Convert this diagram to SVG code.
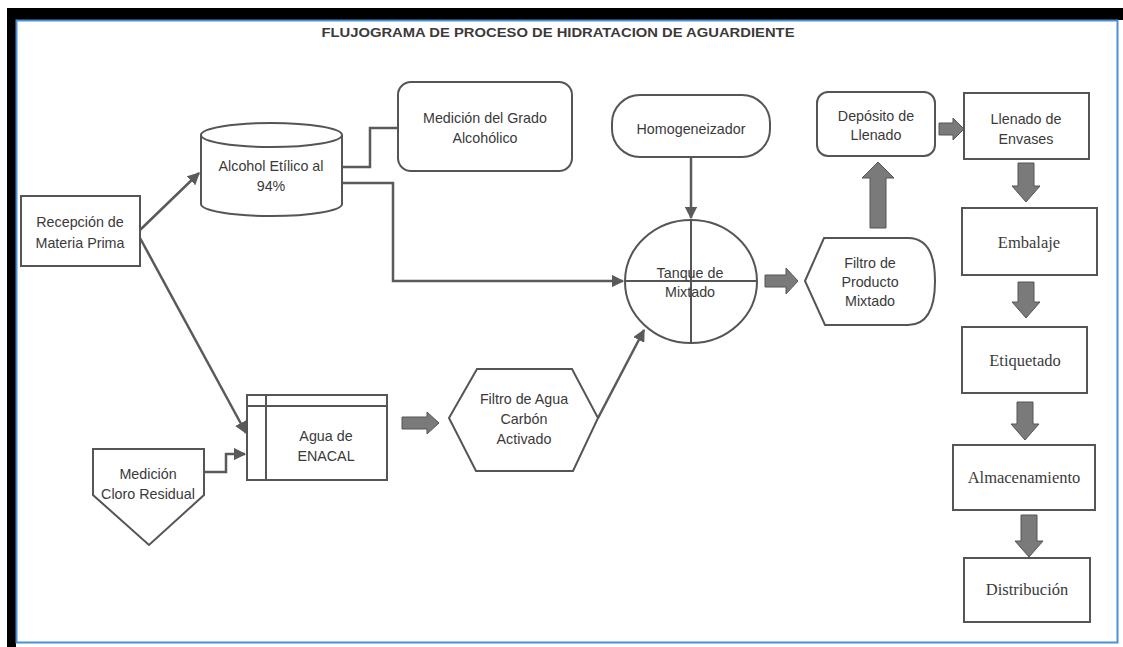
<svg xmlns="http://www.w3.org/2000/svg" width="1123" height="647" viewBox="0 0 1123 647">
<defs>
<style>
.s{fill:#fff;stroke:#555;stroke-width:2}
.t{font-family:"Liberation Sans",Arial,sans-serif;font-size:14.3px;fill:#3a3a3a;text-anchor:middle}
.r{font-family:"Liberation Serif","Times New Roman",serif;font-size:16.5px;fill:#3a3a3a;text-anchor:middle}
.c{fill:none;stroke:#5a5a5a;stroke-width:2.5}
.b{fill:#7a7a7a;stroke:#555;stroke-width:1}
</style>
<marker id="ah" viewBox="0 0 10 10" refX="9" refY="5" markerWidth="5" markerHeight="5" orient="auto" markerUnits="strokeWidth">
<path d="M0,0 L10,5 L0,10 Z" fill="#5a5a5a"/>
</marker>
</defs>
<rect x="0" y="0" width="1123" height="647" fill="#fff"/>
<rect x="7" y="8" width="1116" height="12" fill="#000"/>
<rect x="7" y="8" width="9" height="639" fill="#000"/>
<rect x="16.5" y="20.5" width="1101" height="622" fill="#fff" stroke="#4a90d9" stroke-width="2"/>
<text x="558" y="37" font-family="'Liberation Sans',Arial,sans-serif" font-size="13" font-weight="bold" fill="#3a3a3a" text-anchor="middle" textLength="473" lengthAdjust="spacingAndGlyphs">FLUJOGRAMA DE PROCESO DE HIDRATACION DE AGUARDIENTE</text>

<g id="connectors">
<line class="c" x1="140" y1="230" x2="199" y2="173" marker-end="url(#ah)"/>
<line class="c" x1="140" y1="238" x2="246" y2="433" marker-end="url(#ah)"/>
<polyline class="c" points="342,167 370,167 370,128 398,128" stroke-width="3"/>
<polyline class="c" points="343,183 393,183 393,281 623,281" stroke-width="3" marker-end="url(#ah)"/>
<line class="c" x1="691" y1="157" x2="691" y2="218" marker-end="url(#ah)"/>
<line class="c" x1="598" y1="418" x2="644" y2="330" marker-end="url(#ah)"/>
<polyline class="c" points="204,472 226,472 226,454 245,454" marker-end="url(#ah)"/>
<path class="b" d="M402,417 H427 V412 L439,423 L427,434 V429 H402 Z"/>
<path class="b" d="M765,275 H786 V268 L798,281 L786,294 V287 H765 Z"/>
<path class="b" d="M939,123 H953 V118 L964,129 L953,140 V135 H939 Z"/>
<path class="b" d="M870,228 V178 H862 L878,162 L894,178 H886 V228 Z"/>
<path class="b" d="M1018,163 V186 H1012 L1026,202 L1040,186 H1034 V163 Z"/>
<path class="b" d="M1018,282 V302 H1012 L1026,318 L1040,302 H1034 V282 Z"/>
<path class="b" d="M1017,402 V424 H1011 L1025,440 L1039,424 H1033 V402 Z"/>
<path class="b" d="M1021,515 V541 H1015 L1029,557 L1043,541 H1037 V515 Z"/>
</g>

<g id="recepcion">
<rect class="s" x="21" y="196" width="119" height="70"/>
<text class="t" x="80" y="227">Recepción de</text>
<text class="t" x="80" y="248">Materia Prima</text>
</g>

<g id="alcohol">
<path class="s" d="M201,135 V204 A70.5,12 0 0 0 342,204 V135"/>
<ellipse class="s" cx="271.5" cy="135" rx="70.5" ry="12"/>
<text class="t" x="271" y="171">Alcohol Etílico al</text>
<text class="t" x="271" y="191">94%</text>
</g>

<g id="medicion-grado">
<rect class="s" x="398" y="82" width="174" height="89" rx="13"/>
<text class="t" x="485" y="123">Medición del Grado</text>
<text class="t" x="485" y="143">Alcohólico</text>
</g>

<g id="homogeneizador">
<rect class="s" x="612" y="95" width="158" height="62" rx="28"/>
<text class="t" x="691" y="134">Homogeneizador</text>
</g>

<g id="tanque">
<ellipse class="s" cx="691" cy="281.5" rx="66" ry="61.5"/>
<line x1="691" y1="220" x2="691" y2="343" stroke="#555" stroke-width="2"/>
<line x1="625" y1="281" x2="757" y2="281" stroke="#555" stroke-width="2"/>
<text class="t" x="690" y="278">Tanque de</text>
<text class="t" x="690" y="297">Mixtado</text>
</g>

<g id="filtro-producto">
<path class="s" d="M805,281 L824,238 H908 Q935,238 935,281 Q935,325 908,325 H825 Z"/>
<text class="t" x="870" y="268">Filtro de</text>
<text class="t" x="870" y="287">Producto</text>
<text class="t" x="870" y="306">Mixtado</text>
</g>

<g id="deposito">
<rect class="s" x="817" y="92" width="118" height="64" rx="11"/>
<text class="t" x="876" y="121">Depósito de</text>
<text class="t" x="876" y="140">Llenado</text>
</g>

<g id="llenado">
<rect class="s" x="964" y="93" width="125" height="66"/>
<text class="t" x="1026" y="124">Llenado de</text>
<text class="t" x="1026" y="144">Envases</text>
</g>

<g id="embalaje">
<rect class="s" x="962" y="208" width="135" height="67"/>
<text class="r" x="1029" y="248">Embalaje</text>
</g>

<g id="etiquetado">
<rect class="s" x="962" y="327" width="125" height="66"/>
<text class="r" x="1025" y="366">Etiquetado</text>
</g>

<g id="almacenamiento">
<rect class="s" x="953" y="445" width="142" height="65"/>
<text class="r" x="1024" y="483">Almacenamiento</text>
</g>

<g id="distribucion">
<rect class="s" x="964" y="558" width="126" height="64"/>
<text class="r" x="1027" y="595">Distribución</text>
</g>

<g id="agua">
<rect class="s" x="247" y="395" width="140" height="85"/>
<line x1="247" y1="406" x2="387" y2="406" stroke="#555" stroke-width="2"/>
<line x1="266" y1="395" x2="266" y2="480" stroke="#555" stroke-width="2"/>
<text class="t" x="326" y="441">Agua de</text>
<text class="t" x="326" y="461">ENACAL</text>
</g>

<g id="medicion-cloro">
<path class="s" d="M93,449 H204 V495 L149,545 L93,495 Z"/>
<text class="t" x="148" y="479">Medición</text>
<text class="t" x="148" y="499">Cloro Residual</text>
</g>

<g id="filtro-agua">
<path class="s" d="M449,418 L477,369 H572 L598,418 L573,471 H476 Z"/>
<text class="t" x="524" y="404">Filtro de Agua</text>
<text class="t" x="524" y="424">Carbón</text>
<text class="t" x="524" y="444">Activado</text>
</g>
</svg>
